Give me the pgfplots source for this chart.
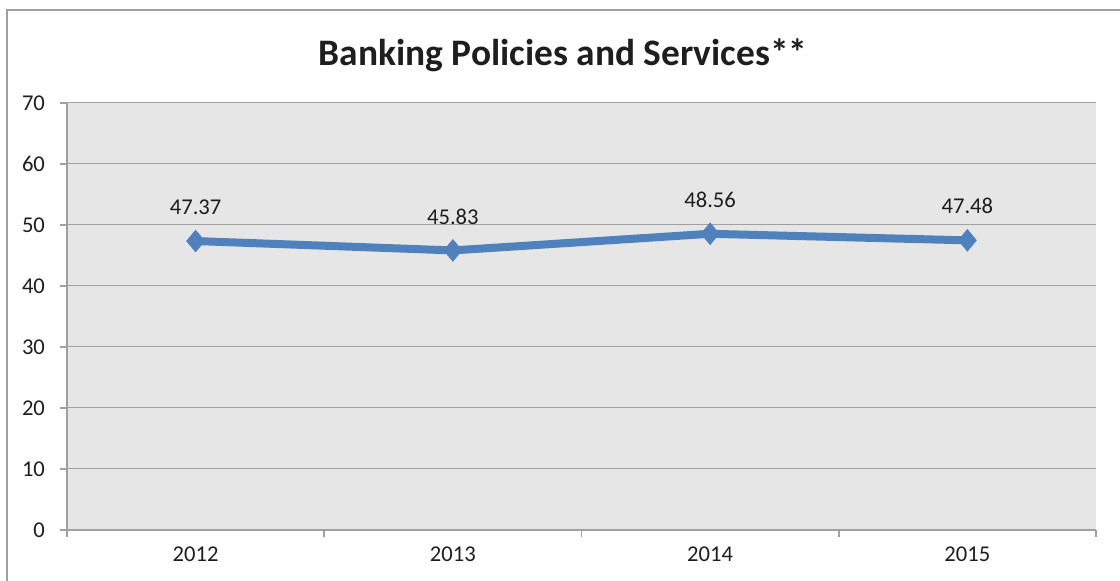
\documentclass[border=0pt]{standalone}
\usepackage{pgfplots}
\pgfplotsset{compat=1.18}
\usepackage{fontspec}
\setmainfont{Carlito}
\definecolor{lineblue}{HTML}{4F81BD}
\definecolor{plotbg}{HTML}{E6E6E6}
\definecolor{gridc}{HTML}{A0A0A0}
\definecolor{txt}{HTML}{1E1E1E}
\begin{document}
\begin{tikzpicture}
\useasboundingbox (0,0) rectangle (560pt,290.5pt);
\begin{scope}
\clip (0,0) rectangle (560pt,290.5pt);
\draw[gridc, line width=0.8pt] (3.5pt,-10pt) -- (3.5pt,285.5pt) -- (580pt,285.5pt);
\end{scope}
\node[font=\fontsize{18.7}{20}\selectfont\bfseries, text=txt] at (281.5pt,263pt) {Banking Policies and Services**};
\begin{axis}[
  at={(33.5pt,25.5pt)}, anchor=south west,
  scale only axis, width=514.5pt, height=213.5pt,
  xmin=0, xmax=4, ymin=0, ymax=70,
  axis background/.style={fill=plotbg},
  axis x line*=bottom, axis y line*=left,
  axis line style={gridc, line width=1pt},
  ytick={0,10,...,70},
  xtick={0,1,2,3,4},
  xticklabels={},
  extra x ticks={0.5,1.5,2.5,3.5},
  extra x tick labels={2012,2013,2014,2015},
  extra x tick style={major tick length=0pt, grid=none},
  ymajorgrids, grid style={gridc, line width=0.5pt},
  tick style={gridc, line width=0.8pt},
  major tick length=3.5pt,
  tick align=outside,
  every tick label/.append style={font=\fontsize{11.3}{13}\selectfont, text=txt},
  yticklabel style={xshift=-4pt},
  xticklabel style={yshift=-5pt},
  /pgf/number format/assume math mode=true,
  clip=false,
]
\addplot[color=lineblue, line width=4pt, mark=square*, mark size=3.2pt,
  mark options={fill=lineblue, draw=lineblue, line width=0.3pt, yscale=1.2, rotate=45},
  nodes near coords, point meta=explicit symbolic,
  every node near coord/.append style={font=\fontsize{11.3}{13}\selectfont, text=txt, anchor=center, yshift=17pt}]
  table[meta=label] {
x y label
0.5 47.37 47.37
1.5 45.83 45.83
2.5 48.56 48.56
3.5 47.48 47.48
};
\end{axis}
\end{tikzpicture}
\end{document}
